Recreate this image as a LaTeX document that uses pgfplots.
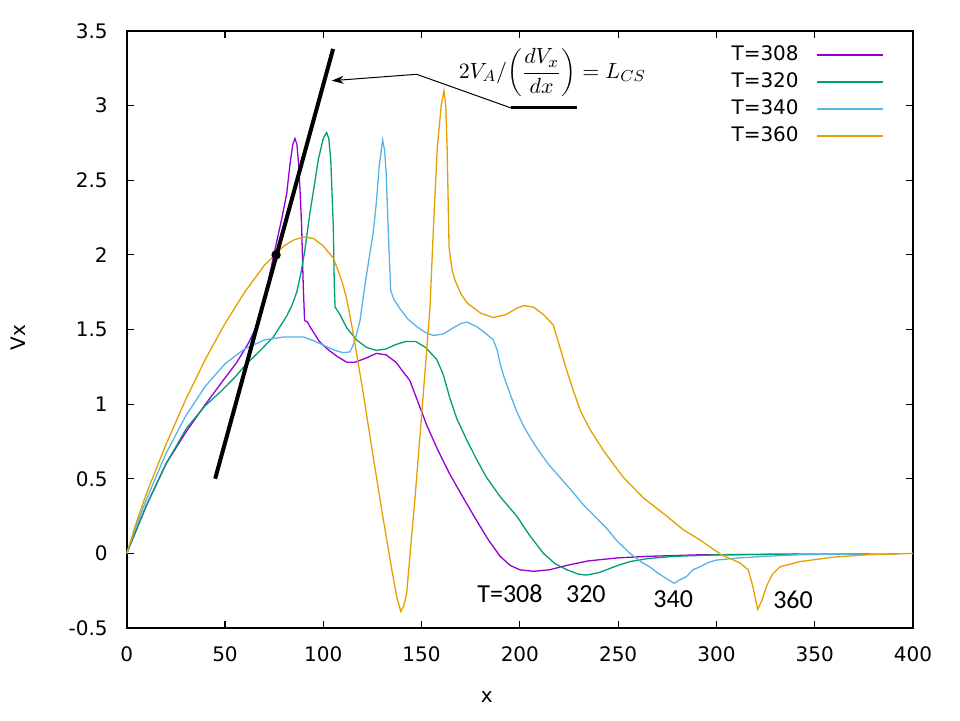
\documentclass[border=0pt]{standalone}
\usepackage{fontspec}
\setmainfont{DejaVu Sans}
\newfontfamily\calib{Carlito}
\usepackage{pgfplots}
\pgfplotsset{compat=1.18}
\usetikzlibrary{arrows.meta}
\definecolor{lineA}{HTML}{9400D3}
\definecolor{lineB}{HTML}{009E73}
\definecolor{lineC}{HTML}{56B4E9}
\definecolor{lineD}{HTML}{E69F00}
\begin{document}
\begin{tikzpicture}
\path[use as bounding box] (-63.35pt,-46pt) rectangle (416.65pt,314pt);
\begin{axis}[
  scale only axis, width=393.15pt, height=298.5pt,
  xmin=0, xmax=400, ymin=-0.5, ymax=3.5,
  xtick={0,50,...,400}, ytick={-0.5,0,0.5,1,1.5,2,2.5,3,3.5},
  /pgf/number format/assume math mode=true,
  tick align=inside, major tick length=3.5pt,
  tick style={black, line width=0.6pt},
  axis line style={line width=0.9pt},
  ticklabel style={font=\fontsize{10}{12}\selectfont},
  yticklabel style={xshift=-6pt},
  xticklabel style={yshift=-6pt},
  xlabel={x}, ylabel={Vx},
  label style={font=\fontsize{10}{12}\selectfont},
  xlabel style={at={(axis description cs:0.458,-0.1156)}, anchor=center},
  ylabel style={at={(axis description cs:-0.138,0.487)}, anchor=center},
  legend plot pos=right,
  legend cell align=right,
  legend image code/.code={\draw[line width=0.9pt] (0pt,0pt) -- (33pt,0pt);},
  legend style={draw=none, fill=none, at={(0.963,0.9825)}, anchor=north east,
    font=\fontsize{10}{12}\selectfont, inner sep=0pt, row sep=0.6pt, column sep=6.5pt},
  every axis plot/.append style={line width=0.65pt},
  clip=false,
]
\addplot[color=lineA] coordinates {
(0,0) (5,0.16) (10,0.32) (20,0.60) (30,0.81) (39,0.98) (48,1.14) (56,1.28) (62,1.41) (66,1.52) (69,1.65) (72,1.82) (74.5,1.98) (76.5,2.1) (79,2.25) (81.4,2.41) (83,2.6) (84.5,2.74) (85.6,2.78) (86.6,2.74) (87.5,2.6) (88.3,2.4) (89,2.19) (89.8,1.8) (90.5,1.56) (92,1.55) (93.2,1.52) (98,1.42) (102,1.37) (107,1.32) (112,1.28) (116,1.28) (122,1.31) (127,1.34) (132,1.33) (137,1.28) (141,1.21) (144,1.16) (148,1.02) (152.6,0.86) (158,0.70) (164,0.54) (170,0.40) (178,0.22) (184,0.09) (190,-0.02) (195,-0.08) (200,-0.11) (207,-0.12) (215,-0.11) (224,-0.08) (235,-0.05) (250,-0.03) (265,-0.02) (290,-0.01) (341,-0.005)
};
\addlegendentry{T=308}
\addplot[color=lineB] coordinates {
(0,0) (10,0.32) (20,0.60) (30.5,0.84) (40,0.99) (47.5,1.08) (55,1.18) (61,1.27) (68,1.36) (74.6,1.45) (78,1.52) (81.4,1.59) (84,1.66) (86.5,1.75) (88.5,1.87) (90.5,2.02) (93.2,2.28) (95.5,2.47) (97.5,2.64) (100,2.78) (101.7,2.82) (102.8,2.78) (103.8,2.64) (104.5,2.4) (105.1,2.19) (105.6,1.8) (106,1.65) (108.5,1.60) (110,1.56) (112,1.51) (114.5,1.47) (117,1.43) (122,1.38) (127,1.36) (132,1.37) (137,1.40) (142,1.42) (147,1.42) (152,1.38) (157.7,1.30) (161,1.2) (164.4,1.04) (168,0.9) (173,0.76) (178,0.63) (183,0.51) (190,0.38) (198.4,0.25) (205,0.12) (212,0.0) (218,-0.07) (224,-0.11) (230,-0.14) (234,-0.145) (240,-0.13) (244,-0.11) (250,-0.08) (256,-0.055) (265,-0.035) (278,-0.02) (300,-0.01) (340,-0.005) (378,-0.003)
};
\addlegendentry{T=320}
\addplot[color=lineC] coordinates {
(0,0) (5,0.19) (10,0.36) (20,0.67) (30,0.92) (40,1.12) (50,1.27) (60,1.37) (70,1.43) (80,1.45) (90,1.45) (96,1.42) (101.7,1.385) (106,1.36) (110,1.345) (113.6,1.35) (116,1.42) (118.7,1.56) (121,1.78) (123,1.95) (125.4,2.15) (127,2.35) (128.5,2.6) (130.2,2.77) (131.2,2.7) (132,2.55) (133,2.19) (133.7,1.95) (134.3,1.76) (136,1.70) (139,1.64) (143,1.57) (147.5,1.52) (152,1.48) (156,1.46) (161,1.47) (166,1.51) (170,1.54) (173,1.55) (178,1.52) (183,1.47) (186.5,1.43) (188.5,1.36) (190,1.27) (192,1.18) (195,1.07) (198.4,0.95) (202,0.85) (206,0.76) (210,0.68) (215,0.59) (221,0.50) (227,0.41) (232,0.33) (238,0.25) (244,0.17) (249,0.09) (256,0.0) (262,-0.06) (266,-0.09) (270,-0.13) (274.7,-0.17) (278.4,-0.20) (281,-0.18) (284.8,-0.155) (288,-0.11) (291.6,-0.09) (296,-0.06) (300,-0.045) (312,-0.03) (325,-0.02) (340,-0.01) (370,-0.005) (393,-0.003)
};
\addlegendentry{T=340}
\addplot[color=lineD] coordinates {
(0,0) (5,0.21) (10,0.40) (20,0.73) (30,1.03) (40,1.30) (50,1.54) (60,1.75) (70,1.93) (80,2.06) (85,2.10) (90,2.12) (95,2.11) (100,2.06) (105,1.98) (108,1.88) (110,1.80) (112,1.70) (115,1.49) (120,1.10) (125,0.68) (130,0.27) (135,-0.12) (137.5,-0.30) (139.5,-0.39) (141,-0.35) (142.4,-0.27) (146.6,0.36) (150,0.92) (152.6,1.36) (154.3,1.65) (156,2.17) (158,2.72) (160,3.0) (161.4,3.10) (162.3,3.0) (163,2.72) (164,2.05) (165.5,1.9) (167,1.83) (170,1.74) (173,1.68) (180,1.61) (186.5,1.58) (193,1.60) (198,1.64) (202,1.66) (207,1.65) (212,1.60) (217,1.53) (220.4,1.38) (224,1.22) (227.2,1.09) (231,0.95) (235.7,0.83) (243,0.68) (252.6,0.51) (263,0.37) (274.7,0.25) (283,0.16) (291.6,0.09) (302.6,-0.01) (308,-0.04) (312,-0.065) (316.2,-0.11) (318.5,-0.22) (321,-0.375) (323,-0.32) (325.5,-0.22) (328.5,-0.14) (332.3,-0.09) (342.5,-0.055) (359,-0.026) (376,-0.01) (400,0)
};
\addlegendentry{T=360}
\addplot[black, line width=2pt, forget plot] coordinates {(45,0.5) (105,3.38)};
\addplot[black, only marks, mark=*, mark size=2pt, forget plot] coordinates {(76,2)};
\draw[line width=0.5pt, -{Stealth[length=6pt,width=4pt]}] (axis cs:195.4,2.985) -- (axis cs:147.5,3.21) -- (axis cs:104.3,3.167);
\draw[line width=1.5pt] (axis cs:195.4,2.985) -- (axis cs:228.9,2.985);
\node[font=\fontsize{11}{13}\selectfont] at (axis cs:216.5,3.22) {$2V_A/\!\left(\displaystyle\frac{dV_x}{dx}\right)=L_{CS}$};
\node[font=\calib\fontsize{13}{15}\selectfont] at (axis cs:195,-0.27) {T=308};
\node[font=\calib\fontsize{13}{15}\selectfont] at (axis cs:233.6,-0.27) {320};
\node[font=\calib\fontsize{13}{15}\selectfont] at (axis cs:278,-0.31) {340};
\node[font=\calib\fontsize{13}{15}\selectfont] at (axis cs:339,-0.31) {360};
\end{axis}
\end{tikzpicture}
\end{document}
